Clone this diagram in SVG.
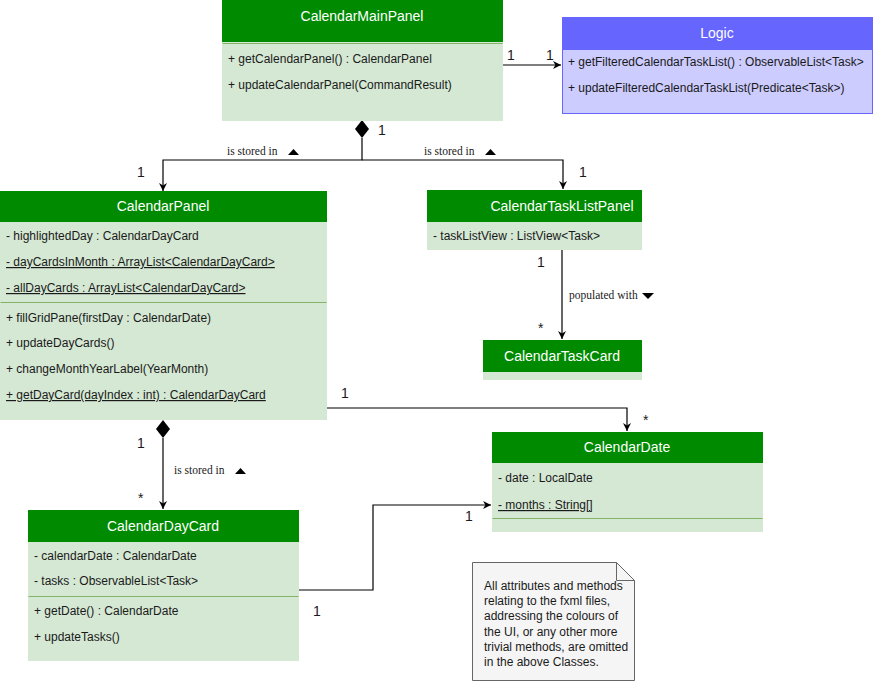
<svg xmlns="http://www.w3.org/2000/svg" width="873" height="681" viewBox="0 0 873 681">
<defs>
<marker id="arr" viewBox="0 0 10 10" refX="10" refY="5" markerWidth="8" markerHeight="8" markerUnits="userSpaceOnUse" orient="auto"><path d="M0,0 L10,5 L0,10 L3,5 Z" fill="#000"/></marker>
</defs>
<style>
.hdr{fill:#008a00;stroke:#008a00}
.body{fill:#d5e8d4;stroke:#d5e8d4}
.sep{stroke:#82b366;stroke-width:1}
.t{font-family:"Liberation Sans",Arial,sans-serif;font-size:12px;fill:#1a1a1a}
.h{font-family:"Liberation Sans",Arial,sans-serif;font-size:14px;fill:#fff;text-anchor:middle}
.m{font-family:"Liberation Sans",Arial,sans-serif;font-size:14px;fill:#1a1a1a}
.lbl{font-family:"Liberation Serif","Times New Roman",serif;font-size:11.5px;fill:#1a1a1a}
.u{text-decoration:underline}
.c{fill:none;stroke:#000;stroke-width:1.2}
</style>
<rect width="873" height="681" fill="#fff"/>

<g id="connectors">
<line class="c" x1="502" y1="65" x2="561" y2="65" marker-end="url(#arr)"/>
<path d="M362,120 L369,129 L362,138 L355,129 Z" fill="#000"/>
<polyline class="c" points="362,138 362,160 163,160 163,191" marker-end="url(#arr)"/>
<polyline class="c" points="362,160 563,160 563,189" marker-end="url(#arr)"/>
<line class="c" x1="562" y1="250" x2="562" y2="339" marker-end="url(#arr)"/>
<polyline class="c" points="326,408 627,408 627,431" marker-end="url(#arr)"/>
<path d="M163,420 L170,429 L163,438 L156,429 Z" fill="#000"/>
<line class="c" x1="163" y1="438" x2="163" y2="509" marker-end="url(#arr)"/>
<polyline class="c" points="298,590 373,590 373,505 491,505" marker-end="url(#arr)"/>
<text class="m" x="507" y="60">1</text>
<text class="m" x="546" y="60">1</text>
<text class="m" x="378" y="135">1</text>
<text class="m" x="137" y="177">1</text>
<text class="m" x="579" y="177">1</text>
<text class="lbl" x="227" y="155">is stored in</text>
<path d="M288,155 L299,155 L293.5,149 Z" fill="#000"/>
<text class="lbl" x="424" y="155">is stored in</text>
<path d="M485,155 L496,155 L490.5,149 Z" fill="#000"/>
<text class="m" x="537" y="267">1</text>
<text class="lbl" x="569" y="299">populated with</text>
<path d="M642,293 L654,293 L648,299 Z" fill="#000"/>
<text class="m" x="538" y="333">*</text>
<text class="m" x="341" y="398">1</text>
<text class="m" x="643" y="425">*</text>
<text class="m" x="137" y="448">1</text>
<text class="lbl" x="174" y="474">is stored in</text>
<path d="M235,474 L246,474 L240.5,468 Z" fill="#000"/>
<text class="m" x="138" y="503">*</text>
<text class="m" x="465" y="521">1</text>
<text class="m" x="313" y="616">1</text>
</g>

<g id="CalendarMainPanel">
<rect class="body" x="222.5" y="0.5" width="280" height="120"/>
<rect class="hdr" x="222.5" y="0.5" width="280" height="41"/>
<line class="sep" x1="222.5" y1="43.5" x2="502.5" y2="43.5"/>
<text class="h" x="362" y="21">CalendarMainPanel</text>
<text class="t" x="228" y="63">+ getCalendarPanel() : CalendarPanel</text>
<text class="t" x="228" y="89">+ updateCalendarPanel(CommandResult)</text>
</g>

<g id="Logic">
<rect x="562.5" y="17.5" width="310" height="96" fill="#ccccff" stroke="#6666ff"/>
<rect x="562.5" y="17.5" width="310" height="32" fill="#6666ff" stroke="#6666ff"/>
<text class="h" x="717" y="38">Logic</text>
<text class="t" x="568" y="66">+ getFilteredCalendarTaskList() : ObservableList&lt;Task&gt;</text>
<text class="t" x="568" y="92">+ updateFilteredCalendarTaskList(Predicate&lt;Task&gt;)</text>
</g>

<g id="CalendarPanel">
<rect class="body" x="0.5" y="191.5" width="326" height="228"/>
<rect class="hdr" x="0.5" y="191.5" width="326" height="30"/>
<text class="h" x="163" y="211">CalendarPanel</text>
<text class="t" x="6" y="240">- highlightedDay : CalendarDayCard</text>
<text class="t u" x="6" y="266">- dayCardsInMonth : ArrayList&lt;CalendarDayCard&gt;</text>
<text class="t u" x="6" y="292">- allDayCards : ArrayList&lt;CalendarDayCard&gt;</text>
<line class="sep" x1="0.5" y1="302.5" x2="326.5" y2="302.5"/>
<text class="t" x="6" y="322">+ fillGridPane(firstDay : CalendarDate)</text>
<text class="t" x="6" y="347">+ updateDayCards()</text>
<text class="t" x="6" y="373">+ changeMonthYearLabel(YearMonth)</text>
<text class="t u" x="6" y="399">+ getDayCard(dayIndex : int) : CalendarDayCard</text>
</g>

<g id="CalendarTaskListPanel">
<rect class="body" x="427.5" y="190.5" width="214" height="59"/>
<rect class="hdr" x="427.5" y="190.5" width="214" height="31"/>
<text class="h" x="562" y="211">CalendarTaskListPanel</text>
<text class="t" x="433" y="240">- taskListView : ListView&lt;Task&gt;</text>
</g>

<g id="CalendarTaskCard">
<rect class="body" x="483.5" y="340.5" width="158" height="39"/>
<rect class="hdr" x="483.5" y="340.5" width="158" height="31"/>
<text class="h" x="562" y="361">CalendarTaskCard</text>
</g>

<g id="CalendarDate">
<rect class="body" x="492.5" y="432.5" width="270" height="99"/>
<rect class="hdr" x="492.5" y="432.5" width="270" height="30"/>
<text class="h" x="627" y="452">CalendarDate</text>
<text class="t" x="498" y="482">- date : LocalDate</text>
<text class="t u" x="498" y="509">- months : String[]</text>
<line class="sep" x1="492.5" y1="518.5" x2="762.5" y2="518.5"/>
</g>

<g id="CalendarDayCard">
<rect class="body" x="28.5" y="510.5" width="270" height="150"/>
<rect class="hdr" x="28.5" y="510.5" width="270" height="31"/>
<text class="h" x="163" y="531">CalendarDayCard</text>
<text class="t" x="34" y="560">- calendarDate : CalendarDate</text>
<text class="t" x="34" y="585">- tasks : ObservableList&lt;Task&gt;</text>
<line class="sep" x1="28.5" y1="596.5" x2="298.5" y2="596.5"/>
<text class="t" x="34" y="615">+ getDate() : CalendarDate</text>
<text class="t" x="34" y="641">+ updateTasks()</text>
</g>

<g id="Note">
<path d="M472.5,562.5 L616.5,562.5 L634.5,580.5 L634.5,680.5 L472.5,680.5 Z" fill="#f5f5f5" stroke="#666"/>
<path d="M616.5,562.5 L616.5,580.5 L634.5,580.5" fill="none" stroke="#666"/>
<text class="t" x="484" y="590">All attributes and methods</text>
<text class="t" x="484" y="605">relating to the fxml files,</text>
<text class="t" x="484" y="620">addressing the colours of</text>
<text class="t" x="484" y="636">the UI, or any other more</text>
<text class="t" x="484" y="651">trivial methods, are omitted</text>
<text class="t" x="484" y="666">in the above Classes.</text>
</g>
</svg>
